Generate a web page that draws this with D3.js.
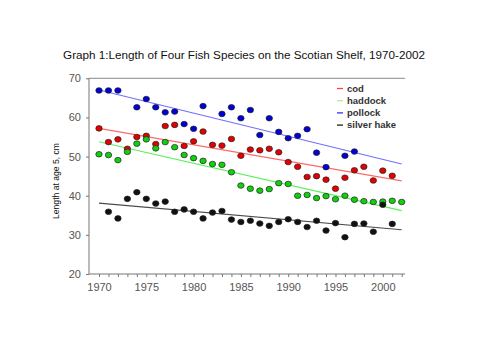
<!DOCTYPE html>
<html>
    <head>
        <meta charset="UTF-8">
        <script src="https://d3js.org/d3.v7.min.js"></script>
        <style>
            body { margin: 0; background: #fff; }
        </style>
    </head>

    <body>

        <svg id="canvas"></svg>

        <script>

            width = 500;
            height = 354;

            // one value per year, null where the series has no point
            years = [1970,1971,1972,1973,1974,1975,1976,1977,1978,1979,
                     1980,1981,1982,1983,1984,1985,1986,1987,1988,1989,
                     1990,1991,1992,1993,1994,1995,1996,1997,1998,1999,
                     2000,2001,2002];

            cod = [57.2,53.7,54.4,52.0,55.0,55.3,53.2,57.8,58.1,52.7,
                   53.9,56.4,53.0,52.8,54.5,50.2,51.8,51.6,52.0,51.1,
                   48.6,47.4,44.8,45.0,44.1,41.8,44.6,46.5,47.4,43.9,
                   46.4,45.1,null];

            haddock = [50.6,50.4,49.1,51.2,53.3,54.4,52.1,53.7,52.4,50.4,
                       49.6,48.9,48.1,47.9,46.0,42.6,41.8,41.3,41.7,43.2,
                       43.0,40.0,40.2,39.4,39.9,39.1,40.0,39.0,38.6,38.4,
                       38.5,38.7,38.4];

            pollock = [66.9,66.9,66.9,null,62.6,64.7,62.6,61.3,61.5,58.3,
                       57.1,62.9,null,60.9,62.6,59.8,61.9,55.5,59.8,56.3,
                       54.7,55.3,57.0,51.0,47.3,null,50.2,51.3,null,null,
                       null,null,null];

            silverHake = [null,35.9,34.2,39.2,40.9,39.2,38.0,38.5,35.9,36.5,
                          35.9,34.2,35.7,36.1,33.9,33.3,33.6,32.9,32.3,33.3,
                          34.0,33.3,32.0,33.6,31.1,33.0,29.4,32.8,32.9,30.8,
                          37.7,32.8,null];

            // trend line values at 1970 and 2002
            trendYears = [1970, 2002];
            codTrend = [57.2, 43.8];
            haddockTrend = [53.8, 36.2];
            pollockTrend = [67.0, 48.1];
            silverHakeTrend = [38.1, 31.3];

            seriesNames = ["cod", "haddock", "pollock", "silver hake"];
            xTickLabels = [1970, 1975, 1980, 1985, 1990, 1995, 2000];
            yTickLabels = [20, 30, 40, 50, 60, 70];

            series = [
                {name: seriesNames[0], values: cod, trend: codTrend, fill: "#e40000", line: "#ff6a6a", key: "#ff4040"},
                {name: seriesNames[1], values: haddock, trend: haddockTrend, fill: "#10d010", line: "#5cf05c", key: "#a8f0a8"},
                {name: seriesNames[2], values: pollock, trend: pollockTrend, fill: "#0000d8", line: "#7070ff", key: "#3030ff"},
                {name: seriesNames[3], values: silverHake, trend: silverHakeTrend, fill: "#111111", line: "#4a4a4a", key: "#222222"}
            ];

            x = d3.scaleLinear()
                .domain([1970, 2002])
                .range([99, 401.7]);

            y = d3.scaleLinear()
                .domain([20, 70])
                .range([274, 78.3]);

            canvas = d3.select("#canvas")
                .attr("width", width)
                .attr("height", height)
                .style("font-family", "'Liberation Sans', Arial, sans-serif");

            // shrink a text's font until it is no wider than the given width
            function fitFont(sel, size, maxWidth) {
                sel.style("font-size", size + "px");
                w = sel.node().getComputedTextLength();
                if (w > maxWidth) sel.style("font-size", (size * maxWidth / w).toFixed(2) + "px");
            }

            // title
            title = canvas.append("text")
                .attr("x", 244)
                .attr("y", 59)
                .attr("text-anchor", "middle")
                .style("font-family", "'Liberation Sans Narrow', 'Liberation Sans', sans-serif")
                .style("fill", "#111")
                .text("Graph 1:Length of Four Fish Species on the Scotian Shelf, 1970-2002");
            fitFont(title, 14.5, 362);

            // frame: top line
            canvas.append("line")
                .attr("x1", 89).attr("x2", 405)
                .attr("y1", y(70)).attr("y2", y(70))
                .style("stroke", "#a0a0a0")
                .style("stroke-width", 1.2);

            // y axis
            yAxis = canvas.append("g")
                .attr("transform", "translate(89,0)")
                .call(d3.axisLeft(y).tickValues(yTickLabels).tickSize(3).tickPadding(5));
            yAxis.select(".domain").attr("d", "M0," + y(70) + "V" + y(20)).style("stroke", "#777");
            yAxis.selectAll(".tick line").style("stroke", "#777");
            yAxis.selectAll("text")
                .style("font-size", "11px")
                .style("font-family", "'Liberation Sans', Arial, sans-serif")
                .style("fill", "#555");

            // x axis, a tick every year, labels every five
            xAxis = canvas.append("g")
                .attr("transform", "translate(0," + y(20) + ")")
                .call(d3.axisBottom(x)
                    .tickValues(years)
                    .tickSize(3)
                    .tickPadding(6)
                    .tickFormat(d => xTickLabels.includes(d) ? d : ""));
            xAxis.select(".domain").attr("d", "M89,0H405").style("stroke", "#777");
            xAxis.selectAll(".tick line").style("stroke", "#777");
            xAxis.selectAll("text")
                .style("font-size", "11px")
                .style("font-family", "'Liberation Sans', Arial, sans-serif")
                .style("fill", "#555");

            // y axis title
            yTitle = canvas.append("text")
                .attr("transform", "translate(58.5,181) rotate(-90)")
                .attr("text-anchor", "middle")
                .style("font-family", "'Liberation Sans Narrow', 'Liberation Sans', sans-serif")
                .style("fill", "#111")
                .text("Length at age 5, cm");
            fitFont(yTitle, 12.5, 76);

            // trend lines
            canvas.selectAll(".trend")
                .data(series)
                .enter().append("line")
                    .attr("class", "trend")
                    .attr("x1", x(trendYears[0]))
                    .attr("x2", x(trendYears[1]))
                    .attr("y1", d => y(d.trend[0]))
                    .attr("y2", d => y(d.trend[1]))
                    .style("stroke", d => d.line)
                    .style("stroke-width", 1.1);

            // points
            groups = canvas.selectAll(".series")
                .data(series)
                .enter().append("g")
                    .attr("class", "series");

            groups.selectAll("ellipse")
                .data(d => d.values.map((v, i) => ({year: years[i], value: v, fill: d.fill}))
                                   .filter(p => p.value !== null))
                .enter().append("ellipse")
                    .attr("cx", d => x(d.year))
                    .attr("cy", d => y(d.value))
                    .attr("rx", 3.2)
                    .attr("ry", 2.8)
                    .style("fill", d => d.fill)
                    .style("stroke", "#222")
                    .style("stroke-width", 0.7);

            // legend
            legend = canvas.selectAll(".legend")
                .data(series)
                .enter().append("g")
                    .attr("class", "legend")
                    .attr("transform", (d, i) => "translate(337," + (88.5 + i * 12.2) + ")");

            legend.append("line")
                .attr("x1", 0).attr("x2", 6)
                .style("stroke", d => d.key)
                .style("stroke-width", 1.3);

            legend.append("text")
                .attr("x", 10)
                .attr("y", 3.3)
                .style("font-size", "9.5px")
                .style("font-weight", "bold")
                .style("fill", "#333")
                .text(d => d.name);

        </script>

    </body>

</html>
